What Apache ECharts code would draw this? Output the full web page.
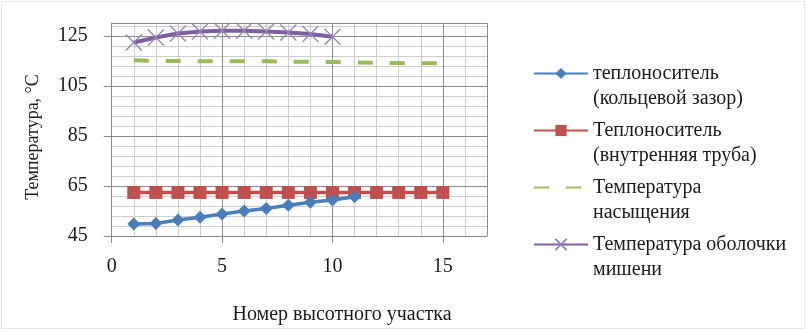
<!DOCTYPE html>
<html>
<head>
<meta charset="utf-8">
<script src="https://cdn.jsdelivr.net/npm/echarts@6/dist/echarts.min.js"></script>
<style>html,body{margin:0;padding:0;background:#fff;}#c{width:807px;height:332px;}</style>
</head>
<body>
<div id="c"></div>
<script>
// Data
const seriesNames = [
  'теплоноситель\n(кольцевой зазор)',
  'Теплоноситель\n(внутренняя труба)',
  'Температура\nнасыщения',
  'Температура оболочки\nмишени'
];
const xGap = [1,2,3,4,5,6,7,8,9,10,11];
const gapValues = [49.8,50.0,51.4,52.5,53.8,55.0,56.0,57.3,58.5,59.4,60.7];
const xTube = [1,2,3,4,5,6,7,8,9,10,11,12,13,14,15];
const tubeValues = [62.4,62.4,62.4,62.4,62.4,62.4,62.4,62.4,62.4,62.4,62.4,62.4,62.4,62.4,62.4];
const xSat = [1,2,3,4,5,6,7,8,9,10,11,12,13,14,15];
const satValues = [115.2,115.0,114.9,114.8,114.8,114.8,114.8,114.7,114.6,114.5,114.3,114.2,114.1,114.0,114.0];
const xShell = [1,2,3,4,5,6,7,8,9,10];
const shellValues = [122.3,124.3,125.9,126.7,127.0,127.0,126.7,126.3,125.7,124.6];
const yTitle = 'Температура, °С';
const xTitle = 'Номер высотного участка';

const FONT = '"Liberation Serif", "DejaVu Serif", serif';
const pair = (xs, ys) => xs.map((x, i) => [x, ys[i]]);

const chart = echarts.init(document.getElementById('c'), null, {renderer: 'canvas'});
const gridPos = {left: 111.7, right: 320, top: 23.3, bottom: 96};
const option = {
  backgroundColor: '#fff',
  animation: false,
  grid: Object.assign({containLabel: false}, gridPos),
  xAxis: [{
    type: 'value', min: 0, max: 17, interval: 5, z: 2,
    axisLine: {show: true, onZero: false, lineStyle: {color: '#8a8a8a', width: 1}},
    axisTick: {show: true, length: 7, inside: false, lineStyle: {color: '#8a8a8a'}},
    axisLabel: {margin: 21, fontFamily: FONT, fontSize: 20, color: '#1a1a1a', showMaxLabel: false},
    splitLine: {show: true, lineStyle: {color: '#8c8c8c', width: 1}}
  }, {
    type: 'value', min: 0, max: 17, interval: 1, z: 1, position: 'bottom',
    axisLine: {show: false}, axisTick: {show: false}, axisLabel: {show: false},
    splitLine: {show: true, lineStyle: {color: '#cdcdcd', width: 1}}
  }],
  yAxis: [{
    type: 'value', min: 45, max: 130, interval: 20, z: 2,
    axisLine: {show: true, onZero: false, lineStyle: {color: '#8a8a8a', width: 1}},
    axisTick: {show: true, length: 8, inside: false, lineStyle: {color: '#8a8a8a'}},
    axisLabel: {margin: 24, fontFamily: FONT, fontSize: 20, color: '#1a1a1a', showMaxLabel: false},
    splitLine: {show: true, lineStyle: {color: '#8c8c8c', width: 1}}
  }, {
    type: 'value', min: 45, max: 130, interval: 4, z: 1, position: 'left',
    axisLine: {show: false}, axisTick: {show: false}, axisLabel: {show: false},
    splitLine: {show: true, lineStyle: {color: '#cdcdcd', width: 1}}
  }],
  legend: {
    orient: 'vertical', left: 528, top: 31, itemWidth: 54, itemHeight: 14, itemGap: -18,
    data: seriesNames,
    formatter: name => '\n' + name,
    textStyle: {fontFamily: FONT, fontSize: 20, color: '#1a1a1a', lineHeight: 25}
  },
  series: [{
    name: seriesNames[0], type: 'line', data: pair(xGap, gapValues),
    color: '#4a7ebb', symbol: 'diamond', symbolSize: 13,
    lineStyle: {color: '#4a7ebb', width: 3.5}, itemStyle: {color: '#4a7ebb'}, z: 4
  }, {
    name: seriesNames[1], type: 'line', data: pair(xTube, tubeValues),
    color: '#c0504d', symbol: 'rect', symbolSize: 13,
    lineStyle: {color: '#c0504d', width: 3.5}, itemStyle: {color: '#c0504d'}, z: 3
  }, {
    name: seriesNames[2], type: 'line', data: pair(xSat, satValues),
    color: '#9bbb59', symbol: 'circle', symbolSize: 0, showSymbol: false,
    lineStyle: {color: '#9bbb59', width: 4, type: [15, 17]},
    itemStyle: {color: 'rgba(0,0,0,0)', opacity: 0}, z: 3
  }, {
    name: seriesNames[3], type: 'line', data: pair(xShell, shellValues),
    color: '#7e60a1', symbol: 'path://M0,0L10,10M0,10L10,0', symbolSize: 16,
    lineStyle: {color: '#7e60a1', width: 4},
    itemStyle: {color: 'rgba(0,0,0,0)', borderColor: '#9586b3', borderWidth: 1.3}, z: 3
  }],
  graphic: [{
    type: 'rect', shape: {x: 1.5, y: 1.5, width: 803, height: 327}, silent: true,
    style: {fill: 'none', stroke: '#e6e6e6', lineWidth: 1}, z: -1
  }, {
    type: 'text', x: 33, y: 137, rotation: Math.PI / 2,
    style: {text: yTitle, font: '18px ' + FONT, fill: '#1a1a1a', align: 'center', verticalAlign: 'middle'}
  }, {
    type: 'text', x: 342, y: 315,
    style: {text: xTitle, font: '20px ' + FONT, fill: '#1a1a1a', align: 'center', verticalAlign: 'middle'}
  }]
};
chart.setOption(option);
</script>
</body>
</html>
